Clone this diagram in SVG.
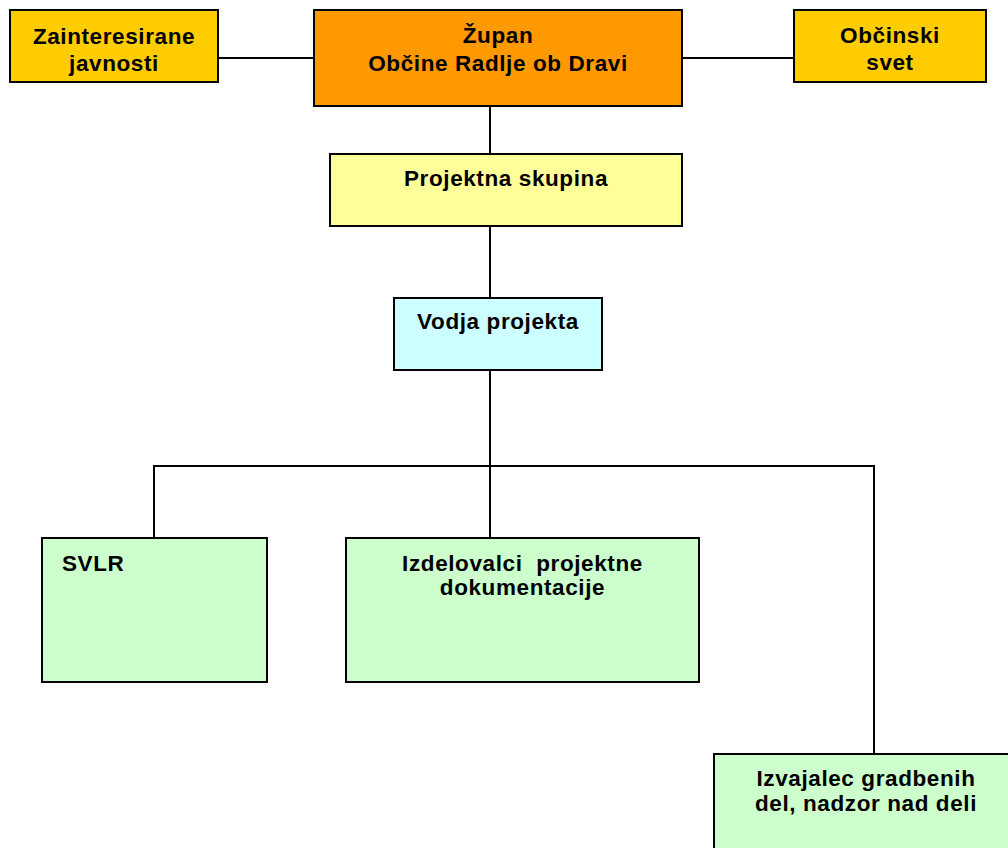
<svg xmlns="http://www.w3.org/2000/svg" width="1008" height="848" viewBox="0 0 1008 848">
<style>
.box{stroke:#000;stroke-width:2}
.t{font-family:"Liberation Sans",Arial,sans-serif;font-weight:bold;font-size:22.5px;letter-spacing:0.6px;fill:#000;text-anchor:middle}
.c{stroke:#000;stroke-width:2;fill:none}
</style>
<rect width="1008" height="848" fill="#fff"/>
<g id="connectors">
<line class="c" x1="218" y1="58" x2="314" y2="58"/>
<line class="c" x1="682" y1="58" x2="794" y2="58"/>
<line class="c" x1="490" y1="106" x2="490" y2="154"/>
<line class="c" x1="490" y1="226" x2="490" y2="298"/>
<line class="c" x1="490" y1="370" x2="490" y2="538"/>
<polyline class="c" points="154,538 154,466 874,466 874,754"/>
</g>
<g id="zainteresirane">
<rect class="box" x="10" y="10" width="208" height="72" fill="#FFCC00"/>
<text class="t" x="114" y="44">Zainteresirane</text>
<text class="t" x="114" y="71">javnosti</text>
</g>
<g id="zupan">
<rect class="box" x="314" y="10" width="368" height="96" fill="#FF9900"/>
<text class="t" x="498" y="43">Župan</text>
<text class="t" x="498" y="71">Občine Radlje ob Dravi</text>
</g>
<g id="obcinski-svet">
<rect class="box" x="794" y="10" width="192" height="72" fill="#FFCC00"/>
<text class="t" x="890" y="43">Občinski</text>
<text class="t" x="890" y="70">svet</text>
</g>
<g id="projektna-skupina">
<rect class="box" x="330" y="154" width="352" height="72" fill="#FFFF99"/>
<text class="t" x="506" y="186">Projektna skupina</text>
</g>
<g id="vodja-projekta">
<rect class="box" x="394" y="298" width="208" height="72" fill="#CCFFFF"/>
<text class="t" x="498" y="329">Vodja projekta</text>
</g>
<g id="svlr">
<rect class="box" x="42" y="538" width="225" height="144" fill="#CCFFCC"/>
<text class="t" x="62" y="571" style="text-anchor:start">SVLR</text>
</g>
<g id="izdelovalci">
<rect class="box" x="346" y="538" width="353" height="144" fill="#CCFFCC"/>
<text class="t" x="522.5" y="571" xml:space="preserve">Izdelovalci  projektne</text>
<text class="t" x="522.5" y="595">dokumentacije</text>
</g>
<g id="izvajalec">
<rect class="box" x="714" y="754" width="304" height="110" fill="#CCFFCC"/>
<text class="t" x="866" y="786">Izvajalec gradbenih</text>
<text class="t" x="866" y="811">del, nadzor nad deli</text>
</g>
</svg>
